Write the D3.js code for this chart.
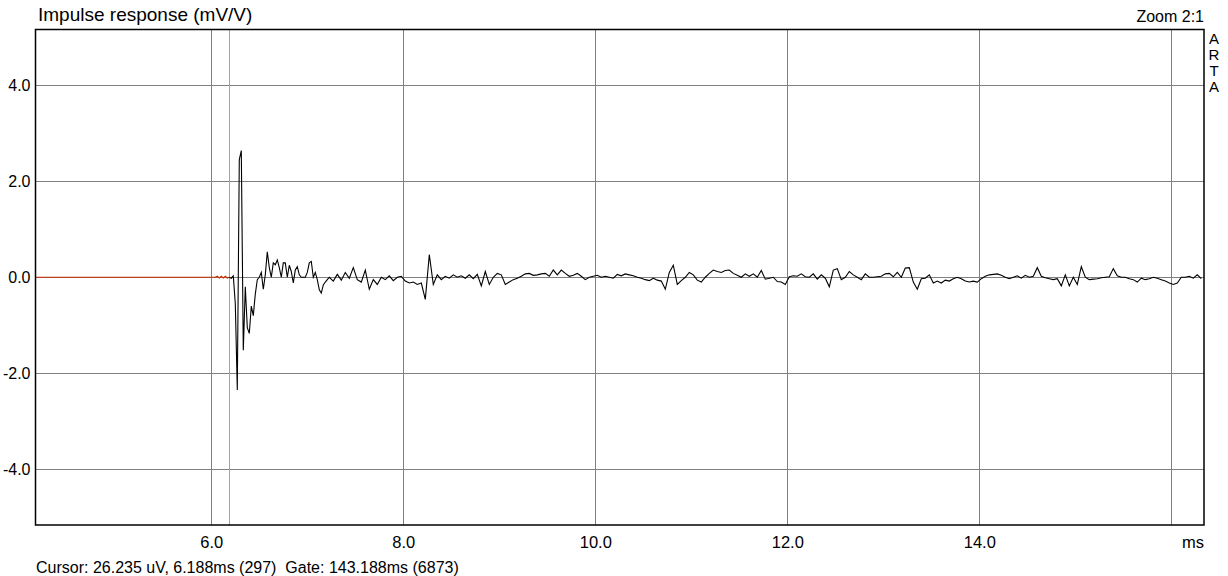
<!DOCTYPE html>
<html>
<head>
<meta charset="utf-8">
<script src="https://cdn.jsdelivr.net/npm/d3@7"></script>
<style>
  html, body { margin: 0; padding: 0; background: #fff; }
  svg { display: block; font-family: Arial, "Liberation Sans", sans-serif; }
</style>
</head>
<body>
<svg id="chart" width="1228" height="576"></svg>
<script>
// ARTA impulse response, 48 kHz sampling
const samplesPerMs = 48;
const cursorSample = 297;

const xTicks = [6, 8, 10, 12, 14, 16];
const yTicks = [4, 2, 0, -2, -4];

// red pre-cursor samples 290..297 (mV/V)
const preValues = [0, 0.02, -0.015, 0.02, -0.015, 0.02, -0.015, 0];

// samples 297..346, one per sample (mV/V)
const headValues = [
  0.0, -0.02, 0.03, -0.55, -2.35, 2.45, 2.64, -1.52, -0.2, -1.05,
  -1.17, -0.6, -0.8, -0.35, -0.05, 0.0, 0.1, -0.25, 0.05, 0.53,
  0.2, 0.0, 0.3, 0.26, 0.36, 0.2, 0.0, 0.3, 0.3, 0.0,
  0.25, 0.12, -0.12, 0.15, 0.22, 0.05, 0.0, 0.0, 0.0, 0.1,
  0.3, 0.33, 0.0, 0.1, -0.05, -0.26, -0.33, -0.16, -0.1, -0.05
];

// samples 347.. every second sample (mV/V)
const tailValues = [
  0.0, -0.08, 0.06, -0.06, 0.1, -0.02, 0.2, -0.05, -0.1, 0.15,
  -0.25, -0.05, -0.15, 0.0, -0.05, 0.03, -0.07, 0.0, 0.02, -0.08,
  -0.12, -0.1, -0.15, -0.12, -0.46, 0.47, -0.15, 0.05, -0.05, 0.02,
  -0.02, 0.05, 0.0, 0.03, -0.02, 0.05, -0.03, 0.06, -0.18, 0.12,
  -0.15, 0.0, 0.08, 0.05, -0.15, -0.1, -0.05, -0.02, 0.02, 0.07,
  0.08, 0.04, 0.05, 0.07, 0.08, 0.02, 0.15, 0.05, 0.15, 0.08,
  0.02, 0.04, 0.08, 0.02, -0.05, 0.0, 0.02, 0.04, 0.0, 0.02,
  0.0, -0.02, 0.06, 0.03, 0.07, 0.05, 0.03, 0.0, -0.02, -0.05,
  -0.07, -0.02, -0.06, -0.08, -0.25, 0.1, 0.25, -0.15, -0.07, 0.0,
  0.1, 0.05, -0.06, -0.1, 0.0, 0.08, 0.15, 0.12, 0.1, 0.14,
  0.15, 0.08, 0.04, 0.0, 0.07, 0.02, 0.07, 0.0, 0.14, -0.04,
  -0.02, 0.0, -0.09, -0.1, -0.15, 0.01, 0.03, 0.02, 0.07, 0.01,
  0.0, 0.07, -0.04, 0.05, -0.02, -0.2, 0.15, 0.18, -0.05, 0.0,
  0.12, 0.05, 0.0, -0.05, 0.07, 0.0, 0.0, 0.01, 0.02, 0.07,
  0.08, 0.01, 0.1, 0.0, 0.19, 0.2, -0.1, -0.25, -0.03, -0.02,
  0.05, -0.12, -0.08, -0.12, -0.06, -0.08, -0.03, 0.0, -0.03, -0.08,
  -0.1, -0.08, -0.1, -0.03, 0.02, 0.05, 0.06, 0.07, 0.04, 0.0,
  -0.03, 0.0, 0.03, -0.02, 0.04, 0.0, 0.02, 0.2, 0.02, -0.01,
  -0.03, -0.05, -0.03, -0.18, 0.05, -0.18, 0.0, -0.15, 0.22, 0.0,
  -0.05, -0.04, -0.03, -0.01, 0.0, 0.01, 0.18, 0.03, 0.0, 0.0,
  -0.03, -0.05, -0.1, -0.02, -0.05, -0.03, 0.0, -0.02, -0.05, -0.08,
  -0.12, -0.15, -0.12, 0.0, 0.0, 0.02, -0.02, 0.05, -0.03
];

const svg = d3.select('#chart');
const margin = {top: 29.5, right: 24, bottom: 51, left: 35.5};
const width = 1228 - margin.left - margin.right;
const height = 576 - margin.top - margin.bottom;

const x = d3.scaleLinear().domain([4.1688, 16.3406]).range([0, width]);
const y = d3.scaleLinear().domain([5.16, -5.16]).range([0, height]);

const g = svg.append('g').attr('transform', `translate(${margin.left},${margin.top})`);

g.append('clipPath').attr('id', 'plotClip')
  .append('rect').attr('width', width).attr('height', height);

// grid
const xGrid = g.append('g')
  .attr('transform', `translate(0,${height})`)
  .call(d3.axisBottom(x).tickValues(xTicks).tickSize(-height).tickPadding(11)
    .tickFormat(d => d === 16 ? '' : d.toFixed(1)));
xGrid.select('.domain').remove();
xGrid.selectAll('line').attr('stroke', '#808080').attr('shape-rendering', 'crispEdges');
xGrid.selectAll('text').attr('fill', '#000').style('font-size', '16.5px')
  .style('font-family', 'Arial, "Liberation Sans", sans-serif');

const yGrid = g.append('g')
  .call(d3.axisLeft(y).tickValues(yTicks).tickSize(-width).tickPadding(5)
    .tickFormat(d => d.toFixed(1)));
yGrid.select('.domain').remove();
yGrid.selectAll('line').attr('stroke', '#808080').attr('shape-rendering', 'crispEdges');
yGrid.selectAll('text').attr('fill', '#000').style('font-size', '16px')
  .style('font-family', 'Arial, "Liberation Sans", sans-serif');

// cursor
const cursorT = cursorSample / samplesPerMs;
g.append('line')
  .attr('x1', x(cursorT)).attr('x2', x(cursorT))
  .attr('y1', 0).attr('y2', height)
  .attr('stroke', '#b8b800').attr('stroke-width', 1.2)
  .attr('shape-rendering', 'crispEdges');

// data
const line = d3.line().x(d => x(d.t)).y(d => y(d.v));

const preData = [{t: x.domain()[0], v: 0}].concat(
  preValues.map((v, i) => ({t: (cursorSample - 7 + i) / samplesPerMs, v})));
const headData = headValues.map((v, i) => ({t: (cursorSample + i) / samplesPerMs, v}));
const tailData = tailValues.map((v, i) => ({t: (cursorSample + 50 + 2 * i) / samplesPerMs, v}));
const mainData = headData.concat(tailData);

const plot = g.append('g').attr('clip-path', 'url(#plotClip)');
plot.append('path').datum(preData)
  .attr('fill', 'none').attr('stroke', '#c83200').attr('stroke-width', 1.2).attr('d', line);
plot.append('path').datum(mainData)
  .attr('fill', 'none').attr('stroke', '#000').attr('stroke-width', 1.1)
  .attr('stroke-linejoin', 'miter').attr('d', line);

// frame
g.append('rect').attr('width', width).attr('height', height)
  .attr('fill', 'none').attr('stroke', '#000').attr('stroke-width', 1.5);

// texts
svg.append('text').attr('x', 38).attr('y', 21)
  .style('font-size', '19px').attr('fill', '#000')
  .text('Impulse response (mV/V)');

svg.append('text').attr('x', margin.left + width).attr('y', 22)
  .attr('text-anchor', 'end').style('font-size', '16px').attr('fill', '#000')
  .text('Zoom 2:1');

svg.append('text').attr('x', margin.left + width).attr('y', 548)
  .attr('text-anchor', 'end').style('font-size', '16.5px').attr('fill', '#000')
  .text('ms');

svg.append('text').attr('x', 36).attr('y', 573)
  .style('font-size', '16px').attr('fill', '#000')
  .text('Cursor: 26.235 uV, 6.188ms (297)  Gate: 143.188ms (6873)')
  .attr('xml:space', 'preserve').style('white-space', 'pre');

svg.append('g').selectAll('text')
  .data(['A', 'R', 'T', 'A'])
  .enter().append('text')
  .attr('x', 1214).attr('y', (d, i) => 43.5 + i * 16)
  .attr('text-anchor', 'middle').style('font-size', '15px').attr('fill', '#000')
  .text(d => d);
</script>
</body>
</html>
